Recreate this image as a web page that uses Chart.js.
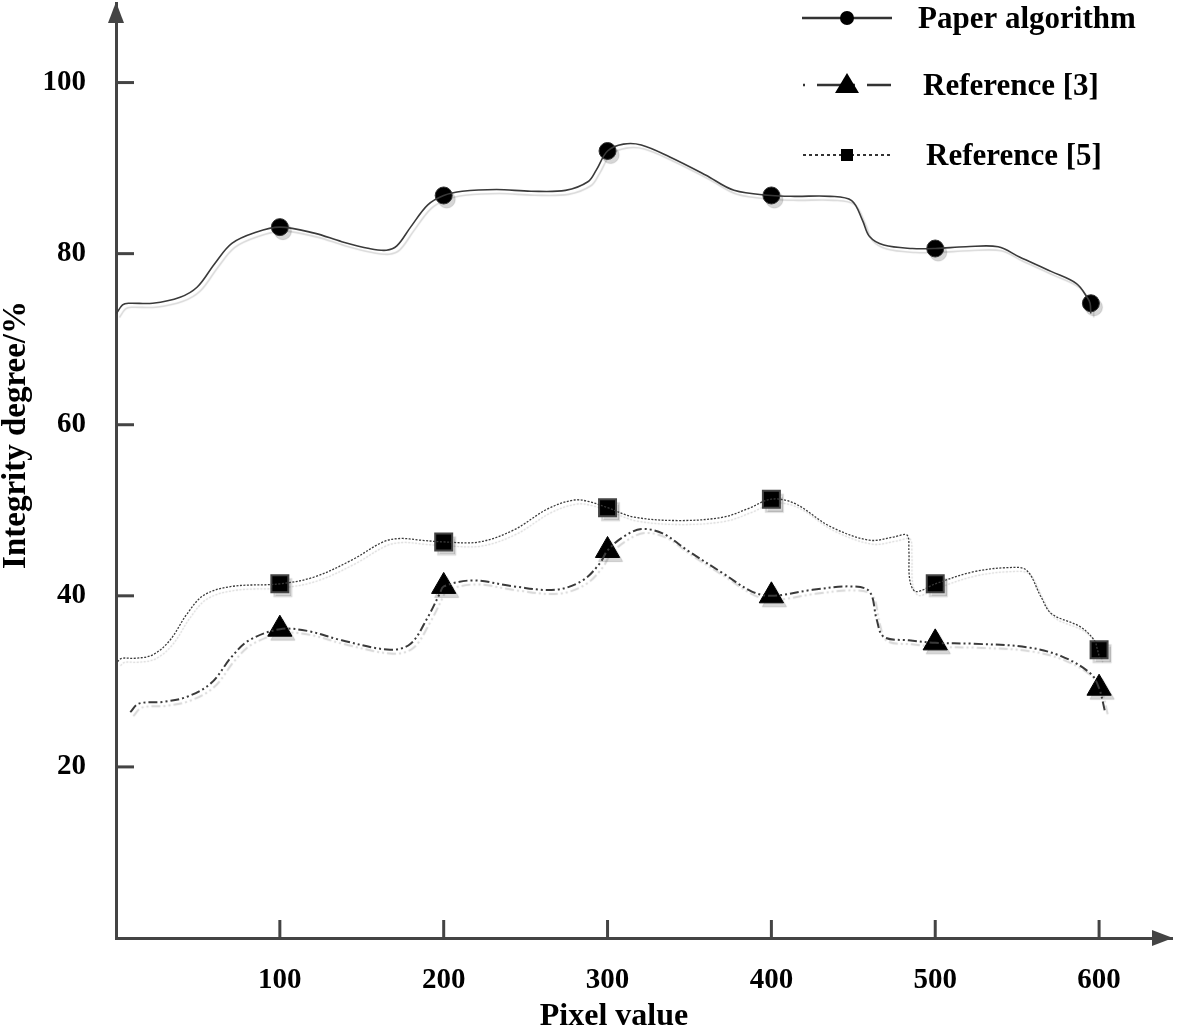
<!DOCTYPE html>
<html>
<head>
<meta charset="utf-8">
<script src="https://cdn.jsdelivr.net/npm/chart.js@4.4.1/dist/chart.umd.min.js"></script>
<style>
  html, body { margin: 0; padding: 0; background: #fff; }
  #wrap { width: 1181px; height: 1031px; }
</style>
</head>
<body>
<div id="wrap"><canvas id="chart" width="1181" height="1031"></canvas></div>
<script>
// values
var pixelValues = [100, 200, 300, 400, 500, 600];
var yTickValues = [20, 40, 60, 80, 100];

var paperMarkX = [100, 200, 300, 400, 500, 595];
var paperValues = [83.1, 86.8, 92.0, 86.8, 80.6, 74.2];
var ref3Values = [36.1, 41.1, 45.3, 40.0, 34.5, 29.2];
var ref5Values = [41.4, 46.3, 50.3, 51.3, 41.4, 33.7];

// traced curve shapes between markers [x, y]
var paperCurve = [[0.3,73.0],[4,74.0],[7.6,74.2],[22.4,74.2],[39.1,74.9],[49.6,76.1],[60.1,78.8],[70.7,81.2],[85.4,82.5],[100,83.1],[121,82.4],[137.8,81.4],[154.6,80.6],[165,80.4],[171.4,80.9],[179.8,83.1],[190.3,85.7],[200,86.8],[211.3,87.3],[232.3,87.5],[253.3,87.3],[274.3,87.4],[288,88.4],[293.2,89.8],[300,92.0],[309.7,92.8],[320.6,92.7],[338,91.3],[359.8,89.2],[377.2,87.4],[400,86.8],[414.2,86.7],[436,86.7],[449,86.2],[455.6,83.9],[459.9,82.0],[468.6,81.0],[486,80.6],[500,80.6],[518.7,80.8],[538.4,80.8],[551.4,79.6],[571,77.9],[586.2,76.5],[592.7,74.9],[594.5,74.2],[594.9,73.0]];

var ref3Curve = [[8.7,26.4],[13.9,27.4],[28.7,27.6],[43.4,28.2],[58.1,29.8],[70.7,32.9],[81.2,34.8],[100,36.1],[116.8,35.9],[137.8,34.8],[167.3,33.7],[179.8,34.4],[190.3,37.5],[197.7,40.3],[200,41.1],[217.6,41.8],[242.8,41.1],[268,40.7],[284.8,41.8],[295.3,43.8],[300,45.3],[309.7,46.9],[320.6,47.8],[333.6,47.3],[348.8,45.3],[370.7,42.6],[388.1,40.5],[400,40.0],[425.1,40.7],[449,41.1],[459.9,40.5],[464.3,37.2],[468.6,35.2],[483.9,34.8],[500,34.5],[523.1,34.4],[555.7,34.0],[577.5,32.9],[594.9,30.9],[600,29.2],[603.7,26.4]];

var ref5Curve = [[0.9,32.3],[3.5,32.7],[11.8,32.7],[22.4,33.1],[32.9,34.8],[43.4,37.9],[53.8,40.1],[70.7,41.1],[100,41.4],[121,42.2],[144.1,44.2],[163,46.3],[173.5,46.7],[186.1,46.5],[200,46.3],[221.8,46.3],[242.8,47.7],[263.8,50.2],[279.6,51.2],[289,51.0],[300,50.3],[316.2,49.2],[344.5,48.8],[370.7,49.2],[385.9,50.2],[400,51.3],[414.2,50.8],[436,48.1],[459.9,46.5],[475.2,46.9],[482.8,47.1],[483.9,45.3],[484.5,41.8],[488.2,40.5],[500,41.4],[523.1,42.8],[544.9,43.3],[555.7,43.0],[564.5,39.9],[571,37.9],[588.4,36.4],[597.1,34.8],[599,33.7],[600.4,32.7]];

var seriesNames = ['Paper algorithm', 'Reference [3]', 'Reference [5]'];

var SERIF = '"Liberation Serif", "Times New Roman", serif';
var AXIS = '#444444';
var ref3Dash = [9, 3, 2, 3, 2, 3];
var ref5Dash = [2, 1.5];

function toPoints(pairs) {
    return pairs.map(function (p) { return { x: p[0], y: p[1] }; });
}
function markPoints(xs, ys) {
    return xs.map(function (x, i) { return { x: x, y: ys[i] }; });
}

var shadowPlugin = {
    id: 'shadow',
    beforeDatasetDraw: function (chart) {
        var ctx = chart.ctx;
        ctx.save();
        ctx.shadowColor = 'rgba(0,0,0,0.16)';
        ctx.shadowOffsetX = 3;
        ctx.shadowOffsetY = 4;
        ctx.shadowBlur = 1;
    },
    afterDatasetDraw: function (chart) {
        chart.ctx.restore();
    }
};

var axesPlugin = {
    id: 'axesDeco',
    afterDraw: function (chart) {
        var ctx = chart.ctx;
        var a = chart.chartArea;
        var xs = chart.scales.x, ys = chart.scales.y;
        ctx.save();
        ctx.strokeStyle = AXIS;
        ctx.fillStyle = AXIS;
        ctx.lineWidth = 3;
        // inward tick marks
        yTickValues.forEach(function (v) {
            var py = ys.getPixelForValue(v);
            ctx.beginPath();
            ctx.moveTo(a.left, py);
            ctx.lineTo(a.left + 18, py);
            ctx.stroke();
        });
        pixelValues.forEach(function (v) {
            var px = xs.getPixelForValue(v);
            ctx.beginPath();
            ctx.moveTo(px, a.bottom);
            ctx.lineTo(px, a.bottom - 18);
            ctx.stroke();
        });
        // arrow heads
        ctx.beginPath();
        ctx.moveTo(a.left, a.top - 1);
        ctx.lineTo(a.left - 8, a.top + 20);
        ctx.lineTo(a.left + 8, a.top + 20);
        ctx.closePath();
        ctx.fill();
        ctx.beginPath();
        ctx.moveTo(a.right + 1, a.bottom);
        ctx.lineTo(a.right - 20, a.bottom - 8);
        ctx.lineTo(a.right - 20, a.bottom + 8);
        ctx.closePath();
        ctx.fill();

        // axis titles
        ctx.fillStyle = '#000';
        ctx.font = 'bold 32px ' + SERIF;
        ctx.textAlign = 'center';
        ctx.textBaseline = 'middle';
        ctx.fillText('Pixel value', 614, 1017);
        ctx.font = 'bold 33px ' + SERIF;
        ctx.translate(16, 435);
        ctx.rotate(-Math.PI / 2);
        ctx.fillText('Integrity degree/%', 0, 0);
        ctx.restore();
    }
};

var legendPlugin = {
    id: 'customLegend',
    afterDraw: function (chart) {
        var ctx = chart.ctx;
        var rows = [18, 85, 155];
        var textX = [918, 923, 926];
        ctx.save();
        ctx.strokeStyle = '#333';
        ctx.fillStyle = '#000';

        // Paper algorithm
        ctx.lineWidth = 2.5;
        ctx.beginPath();
        ctx.moveTo(802, rows[0]); ctx.lineTo(892, rows[0]);
        ctx.stroke();
        ctx.beginPath();
        ctx.arc(847, rows[0], 7, 0, Math.PI * 2);
        ctx.fill();

        // Reference [3]
        ctx.lineWidth = 2.5;
        ctx.setLineDash([2, 12, 24, 12]);
        ctx.beginPath();
        ctx.moveTo(803, rows[1]); ctx.lineTo(900, rows[1]);
        ctx.stroke();
        ctx.setLineDash([]);
        ctx.beginPath();
        ctx.moveTo(847, rows[1] - 12);
        ctx.lineTo(835, rows[1] + 8);
        ctx.lineTo(859, rows[1] + 8);
        ctx.closePath();
        ctx.fill();

        // Reference [5]
        ctx.lineWidth = 2;
        ctx.setLineDash([3, 3]);
        ctx.beginPath();
        ctx.moveTo(803, rows[2]); ctx.lineTo(893, rows[2]);
        ctx.stroke();
        ctx.setLineDash([]);
        ctx.fillRect(841, rows[2] - 6, 12, 12);

        ctx.font = 'bold 31px ' + SERIF;
        ctx.textAlign = 'left';
        ctx.textBaseline = 'middle';
        seriesNames.forEach(function (name, i) {
            ctx.fillText(name, textX[i], rows[i] + 2);
        });
        ctx.restore();
    }
};

var chart = new Chart(document.getElementById('chart'), {
    type: 'line',
    data: {
        datasets: [
            { label: seriesNames[0], data: toPoints(paperCurve), borderColor: '#3a3a3a', borderWidth: 1.6, pointRadius: 0, tension: 0.35, fill: false },
            { label: seriesNames[1], data: toPoints(ref3Curve), borderColor: '#3a3a3a', borderWidth: 2, borderDash: ref3Dash, pointRadius: 0, tension: 0.35, fill: false },
            { label: seriesNames[2], data: toPoints(ref5Curve), borderColor: '#3a3a3a', borderWidth: 1.3, borderDash: ref5Dash, pointRadius: 0, tension: 0.35, fill: false },
            { label: 'paper marks', data: markPoints(paperMarkX, paperValues), showLine: false, pointStyle: 'circle', pointRadius: 8.5, backgroundColor: '#000', borderColor: '#333', borderWidth: 1 },
            { label: 'ref3 marks', data: markPoints(pixelValues, ref3Values), showLine: false, pointStyle: 'triangle', pointRadius: 14, backgroundColor: '#000', borderColor: '#000', borderWidth: 1 },
            { label: 'ref5 marks', data: markPoints(pixelValues, ref5Values), showLine: false, pointStyle: 'rect', pointRadius: 12, backgroundColor: '#000', borderColor: '#444', borderWidth: 2 }
        ]
    },
    options: {
        responsive: false,
        animation: false,
        layout: { autoPadding: false, padding: { top: 3, right: 9, left: 0, bottom: 0 } },
        plugins: { legend: { display: false }, tooltip: { enabled: false } },
        scales: {
            x: {
                type: 'linear',
                min: 0,
                max: 644.5,
                afterFit: function (s) { s.height = 93; s.paddingLeft = 0; s.paddingRight = 0; },
                afterBuildTicks: function (s) { s.ticks = pixelValues.map(function (v) { return { value: v }; }); },
                grid: { display: false, drawTicks: false },
                border: { display: true, color: AXIS, width: 3 },
                ticks: { padding: 25, color: '#000', font: { family: SERIF, size: 29, weight: 'bold' }, maxRotation: 0 }
            },
            y: {
                type: 'linear',
                min: 0,
                max: 109.3,
                afterFit: function (s) { s.width = 116; s.paddingTop = 0; s.paddingBottom = 0; },
                afterBuildTicks: function (s) { s.ticks = yTickValues.map(function (v) { return { value: v }; }); },
                grid: { display: false, drawTicks: false },
                border: { display: true, color: AXIS, width: 3 },
                ticks: { padding: 30, color: '#000', font: { family: SERIF, size: 29, weight: 'bold' } }
            }
        }
    },
    plugins: [shadowPlugin, axesPlugin, legendPlugin]
});
</script>
</body>
</html>
